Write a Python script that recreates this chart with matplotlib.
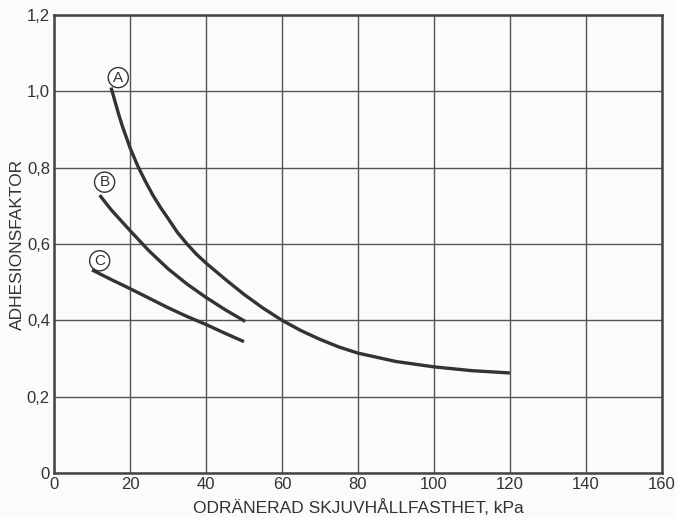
"""
Adhesionsfaktor mot odränerad skjuvhållfasthet, kurvor A, B och C.
"""
import numpy as np
import matplotlib
matplotlib.use('Agg')
import matplotlib.pyplot as plt

# ── Kurvdata (kPa, adhesionsfaktor) ────────────────────────────
A_x = [15, 16, 17, 18, 20, 22, 24, 26, 28, 30, 32.5, 35, 37.5, 40, 45, 50, 55, 60,
       65, 70, 75, 80, 90, 100, 110, 120]
A_y = [1.01, 0.975, 0.94, 0.908, 0.852, 0.805, 0.765, 0.728, 0.696, 0.667, 0.630, 0.60,
       0.573, 0.550, 0.508, 0.468, 0.432, 0.40, 0.373, 0.35, 0.33, 0.314, 0.292, 0.278,
       0.268, 0.262]

B_x = [12, 15, 20, 25, 30, 35, 40, 45, 50.3]
B_y = [0.728, 0.69, 0.635, 0.582, 0.535, 0.495, 0.46, 0.428, 0.397]

C_x = [10, 15, 20, 25, 30, 35, 40, 45, 50]
C_y = [0.532, 0.507, 0.483, 0.458, 0.433, 0.41, 0.389, 0.366, 0.344]

LABELS = [("A", 16.9, 1.036), ("B", 13.3, 0.762), ("C", 12.0, 0.556)]

X_TICKS = [0, 20, 40, 60, 80, 100, 120, 140, 160]
Y_TICKS = [0, 0.2, 0.4, 0.6, 0.8, 1.0, 1.2]
Y_TICKLABELS = ['0', '0,2', '0,4', '0,6', '0,8', '1,0', '1,2']

INK = '#333333'

plt.rcParams.update({'font.family': ['Liberation Sans', 'DejaVu Sans'], 'font.size': 12})
fig = plt.figure(figsize=(6.76, 5.18), dpi=100, facecolor='#fbfbfb')
ax = fig.add_axes([0.080, 0.087, 0.899, 0.884])
ax.set_facecolor('#fbfbfb')

ax.set_xlim(0, 160)
ax.set_ylim(0, 1.2)
ax.set_xticks(X_TICKS)
ax.set_xticklabels([str(t) for t in X_TICKS])
ax.set_yticks(Y_TICKS)
ax.set_yticklabels(Y_TICKLABELS)
ax.tick_params(length=0, pad=3, colors=INK, labelsize=12)
ax.grid(True, color='#555555', lw=1.0)
ax.set_axisbelow(True)
for sp in ax.spines.values():
    sp.set_color('#444444'); sp.set_linewidth(1.8)

for xs, ys in [(A_x, A_y), (B_x, B_y), (C_x, C_y)]:
    ax.plot(xs, ys, color=INK, lw=2.4, solid_capstyle='butt', solid_joinstyle='round',
            zorder=3)

for nm, lx, ly in LABELS:
    ax.text(lx, ly, nm, ha='center', va='center', fontsize=11, color=INK, zorder=4,
            bbox=dict(boxstyle='circle,pad=0.2', fc='white', ec=INK, lw=1.0))

ax.set_xlabel('ODRÄNERAD SKJUVHÅLLFASTHET, kPa', fontsize=12.5, color=INK, labelpad=5)
ax.set_ylabel('ADHESIONSFAKTOR', fontsize=12.5, color=INK, labelpad=1)

fig.savefig('out.png', dpi=100, facecolor=fig.get_facecolor())
plt.close()
